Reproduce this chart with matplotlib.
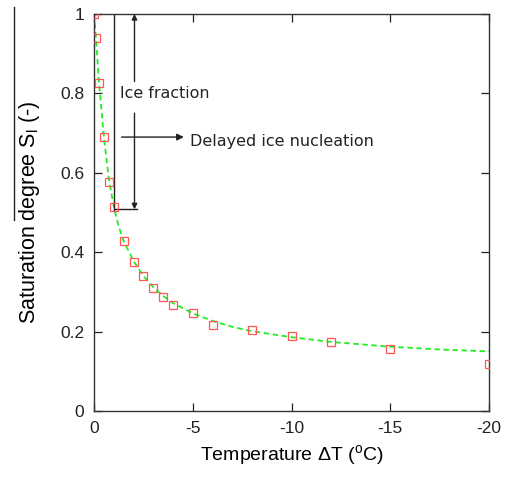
import matplotlib
matplotlib.use("Agg")
import matplotlib.pyplot as plt
from matplotlib.lines import Line2D

# measured points (temperature difference, saturation degree)
temp_pts = [0, -0.1, -0.25, -0.5, -0.75, -1.0, -1.5, -2.0, -2.5, -3.0, -3.5, -4.0,
            -5.0, -6.0, -8.0, -10.0, -12.0, -15.0, -20.0]
sat_pts = [1.0, 0.939, 0.825, 0.689, 0.578, 0.514, 0.428, 0.376, 0.339, 0.310, 0.287,
           0.268, 0.247, 0.216, 0.203, 0.188, 0.174, 0.156, 0.119]

# fitted curve
temp_fit = [0, -0.1, -0.25, -0.5, -0.75, -1.0, -1.25, -1.5, -2.0, -2.5, -3.0, -3.5, -4.0,
            -5.0, -6.0, -7.0, -8.0, -10.0, -12.0, -15.0, -17.5, -20.0]
sat_fit = [1.0, 0.94, 0.83, 0.69, 0.585, 0.515, 0.465, 0.428, 0.378, 0.340, 0.312,
           0.290, 0.272, 0.246, 0.227, 0.212, 0.201, 0.186, 0.174, 0.162, 0.155, 0.150]

xticks = [0, -5, -10, -15, -20]
xticklabels = ["0", "-5", "-10", "-15", "-20"]
yticks = [0, 0.2, 0.4, 0.6, 0.8, 1.0]
yticklabels = ["0", "0.2", "0.4", "0.6", "0.8", "1"]

plt.rcParams["font.family"] = ["Liberation Sans", "DejaVu Sans"]

fig = plt.figure(figsize=(5.07, 4.79), dpi=100)
ax = fig.add_axes([94/507, 1 - 411/479, (489 - 94)/507, (411 - 14)/479])

ax.plot(temp_fit, sat_fit, color="#22ee22", lw=1.3, ls=(0, (3, 2)), zorder=2)
ax.plot(temp_pts, sat_pts, ls="none", marker="s", ms=5.5, mfc="none",
        mec="#ff5555", mew=0.9, zorder=3)

ax.set_xlim(0, -20)
ax.set_ylim(0, 1)
ax.set_xticks(xticks)
ax.set_xticklabels(xticklabels)
ax.set_yticks(yticks)
ax.set_yticklabels(yticklabels)
ax.tick_params(direction="in", top=True, right=True, length=6, width=0.9,
               labelsize=12.5, pad=7, colors="#222222")
for s in ax.spines.values():
    s.set_linewidth(1.0)
    s.set_color("#333333")

ax.set_xlabel("Temperature ΔT ($\\mathregular{^{o}}$C)", fontsize=14, labelpad=5)
ax.set_ylabel("Saturation degree S$\\mathregular{_l}$ (-)", fontsize=15.5, labelpad=13)

# annotations
ax.plot([-1.0, -1.0], [1.0, 0.505], color="#222222", lw=1.0)
ax.plot([-1.0, -2.2], [0.508, 0.508], color="#222222", lw=1.0)
ax.annotate("", xy=(-2.05, 1.0), xytext=(-2.05, 0.83),
            arrowprops=dict(arrowstyle="-|>", color="#222222", lw=1.0,
                            mutation_scale=8, shrinkA=0, shrinkB=0))
ax.annotate("", xy=(-2.05, 0.508), xytext=(-2.05, 0.75),
            arrowprops=dict(arrowstyle="-|>", color="#222222", lw=1.0,
                            mutation_scale=8, shrinkA=0, shrinkB=0))
ax.text(-1.3, 0.80, "Ice fraction", fontsize=11.4, family="DejaVu Sans",
        color="#222222", va="center", ha="left")
ax.annotate("", xy=(-4.55, 0.69), xytext=(-1.4, 0.69),
            arrowprops=dict(arrowstyle="-|>", color="#222222", lw=1.0,
                            mutation_scale=10, shrinkA=0, shrinkB=0))
ax.text(-4.85, 0.68, "Delayed ice nucleation", fontsize=11.5, family="DejaVu Sans",
        color="#222222", va="center", ha="left")

# stray vertical line left of the y label
fig.add_artist(Line2D([14/507, 14/507], [1 - 7/479, 1 - 220/479],
                      transform=fig.transFigure, color="#222222", lw=1.0))

fig.savefig("out.png", dpi=100)
